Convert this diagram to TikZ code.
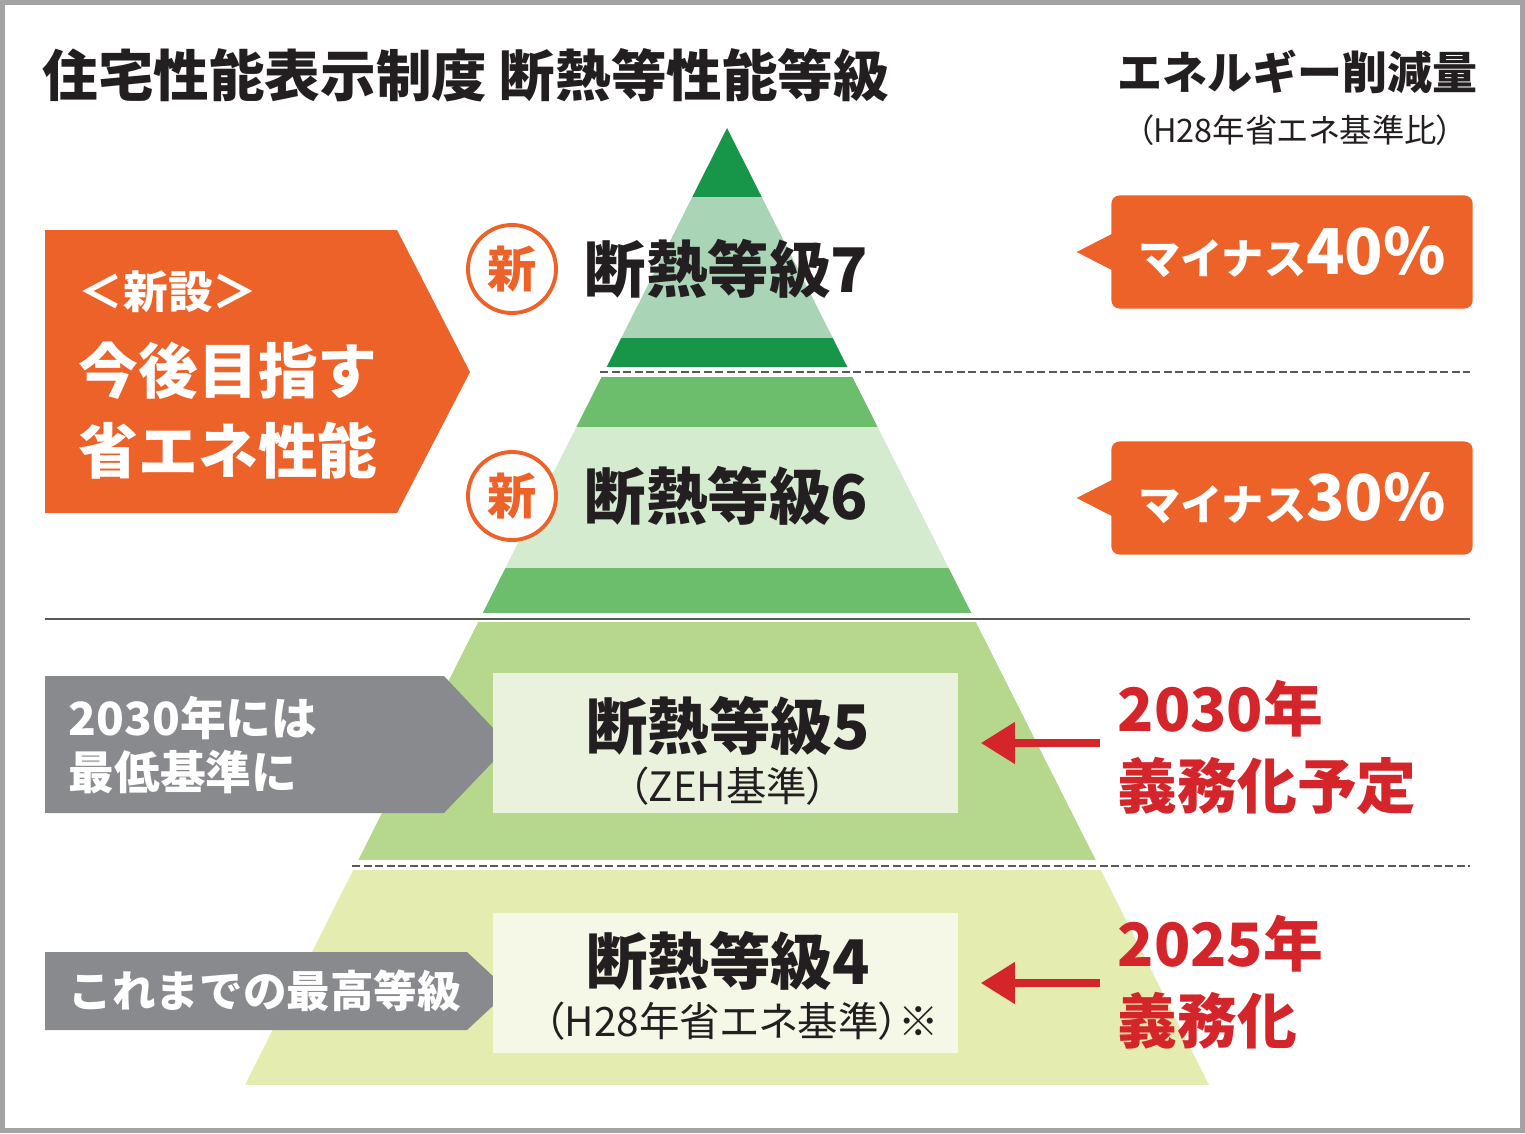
\documentclass[tikz,border=0pt]{standalone}
\usepackage{fontspec}
\setmainfont{Noto Sans CJK JP}
\newfontfamily\jpnarrow[RawFeature=+palt]{Noto Sans CJK JP}
\usepackage{xcolor}
\usepackage{tikz}
\usetikzlibrary{arrows.meta,positioning,calc}

\definecolor{frameGray}{HTML}{A3A3A3}
\definecolor{inkDark}{HTML}{231F20}
\definecolor{accentOrange}{HTML}{EC6228}
\definecolor{tagGray}{HTML}{898A8D}
\definecolor{dueRed}{HTML}{D4252B}
\definecolor{deepGreen}{HTML}{17964A}
\definecolor{midGreen}{HTML}{6CBE6C}
\definecolor{paleSeven}{HTML}{AAD4B6}
\definecolor{paleSix}{HTML}{D4EBD0}
\definecolor{fieldFive}{HTML}{B5D88C}
\definecolor{fieldFour}{HTML}{E4ECB0}
\definecolor{cardFive}{HTML}{EAF2DE}
\definecolor{cardFour}{HTML}{F5F8E6}

\newcommand{\pxfont}[2]{\fontsize{#1}{#2}\selectfont}

\begin{document}
\begin{tikzpicture}[x=0.01cm, y=-0.01cm,
  heading/.style={font=\bfseries\pxfont{15.8pt}{18pt}, text=inkDark, inner sep=0},
  grade/.style={font=\bfseries\pxfont{17.5pt}{20pt}, text=inkDark, inner sep=0},
  subline/.style={font=\jpnarrow\pxfont{11.5pt}{13pt}, text=inkDark, inner sep=0},
  newmark/.style={circle, draw=accentOrange, line width=1.1pt, fill=white, minimum size=0.88cm, inner sep=0, text=accentOrange, font=\bfseries\pxfont{14pt}{16pt}},
  card/.style={rectangle, inner sep=0, minimum width=4.65cm, minimum height=1.4cm},
  callout/.style={rectangle, rounded corners=0.08cm, fill=accentOrange, text=white, minimum width=3.61cm, minimum height=1.13cm, inner sep=0, font=\bfseries},
  tagtext/.style={text=white, align=left, inner sep=0, anchor=west},
  duetext/.style={text=dueRed, font=\bfseries\pxfont{17pt}{21.9pt}, align=left, inner sep=0, anchor=west},
  duearrow/.style={draw=dueRed, line width=0.075cm, -{Triangle[length=0.34cm,width=0.4cm]}},
  levelrule/.style={draw=black!65, line width=0.8pt},
  levelsplit/.style={draw=black!65, line width=0.7pt, dash pattern=on 0.08cm off 0.035cm}]

  \fill[frameGray] (0,0) rectangle (1525,1133);
  \fill[white] (5,5) rectangle (1520,1128);

  \begin{scope}
    \clip (727,128) -- (245,1085) -- (1209,1085) -- cycle;
    \foreach \ya/\yb/\col in {128/197/deepGreen, 197/338/paleSeven, 338/367/deepGreen, 377/427/midGreen, 427/568/paleSix, 568/613/midGreen, 622/860/fieldFive, 870/1085/fieldFour}
      \fill[\col] (200,\ya) rectangle (1300,\yb);
  \end{scope}

  \draw[levelrule] (45,619) -- (1470,619);
  \draw[levelsplit] (600,372) -- (1470,372);
  \draw[levelsplit] (352,866) -- (1470,866);

  \node[heading, anchor=west] (title) at (42,75) {住宅性能表示制度 断熱等性能等級};
  \node[heading, font=\bfseries\pxfont{12.8pt}{15pt}, anchor=east] (saving) at (1478,72) {エネルギー削減量};
  \node[subline, font=\jpnarrow\pxfont{9.2pt}{10pt}] (basis) at (1295,130) {（H28年省エネ基準比）};

  \fill[accentOrange] (45,230) -- (397,230) -- (470,372) -- (397,513) -- (45,513) -- cycle;
  \node[tagtext, font=\bfseries\pxfont{12.7pt}{15pt}] (setup) at (78,292) {＜新設＞};
  \node[tagtext, font=\bfseries\pxfont{17pt}{20pt}] (aimA) at (78,371) {今後目指す};
  \node[tagtext, font=\bfseries\pxfont{17pt}{20pt}] (aimB) at (78,451) {省エネ性能};

  \node[newmark] (new7) at (512,269) {新};
  \node[grade, right=0.26cm of new7] (g7) {断熱等級7};
  \node[newmark] (new6) at (512,496) {新};
  \node[grade, right=0.26cm of new6] (g6) {断熱等級6};

  \node[callout] (cut40) at (1292,252) {\pxfont{12pt}{14pt}マイナス\pxfont{18pt}{20pt}40\%};
  \fill[accentOrange] ([xshift=0.05cm,yshift=0.2cm]cut40.west) -- ([xshift=-0.34cm]cut40.west) -- ([xshift=0.05cm,yshift=-0.2cm]cut40.west) -- cycle;
  \node[callout] (cut30) at (1292,498) {\pxfont{12pt}{14pt}マイナス\pxfont{18pt}{20pt}30\%};
  \fill[accentOrange] ([xshift=0.05cm,yshift=0.2cm]cut30.west) -- ([xshift=-0.34cm]cut30.west) -- ([xshift=0.05cm,yshift=-0.2cm]cut30.west) -- cycle;

  \fill[tagGray] (45,676) -- (444,676) -- (509,745) -- (444,813) -- (45,813) -- cycle;
  \node[tagtext, font=\bfseries\pxfont{13pt}{15.6pt}] (min2030) at (68,745) {2030年には\\最低基準に};
  \fill[tagGray] (45,952) -- (467,952) -- (509,991) -- (467,1030) -- (45,1030) -- cycle;
  \node[tagtext, font=\bfseries\pxfont{12.4pt}{15pt}] (topold) at (68,991) {これまでの最高等級};

  \node[card, fill=cardFive] (card5) at (725.5,743) {};
  \node[grade] (g5) at (728,726) {断熱等級5};
  \node[subline] (zeh) at (728,786) {（ZEH基準）};
  \node[card, fill=cardFour] (card4) at (725.5,983) {};
  \node[grade] (g4) at (728,961) {断熱等級4};
  \node[subline] (h28) at (742,1021) {（H28年省エネ基準）※};

  \node[duetext] (due5) at (1117,747) {2030年\\義務化予定};
  \node[duetext] (due4) at (1117,982) {2025年\\義務化};
  \draw[duearrow, shorten <=0.17cm, shorten >=0.22cm] (due5.west |- card5.east) -- (card5.east);
  \draw[duearrow, shorten <=0.17cm, shorten >=0.22cm] (due4.west |- card4.east) -- (card4.east);
\end{tikzpicture}
\end{document}
